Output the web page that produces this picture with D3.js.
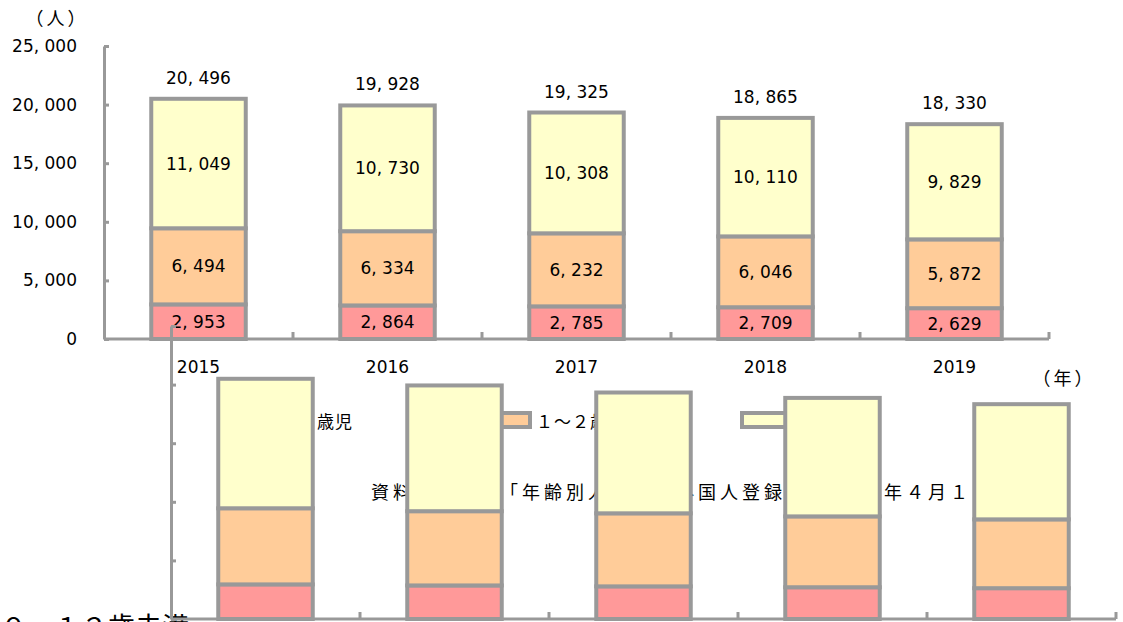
<!DOCTYPE html>
<html>
<head>
<meta charset="utf-8">
<script src="https://cdn.jsdelivr.net/npm/d3@7"></script>
<style>
  html, body { margin: 0; padding: 0; background: #fff; }
  svg { display: block; font-family: "Noto Sans CJK JP", "Noto Sans", sans-serif; }
</style>
</head>
<body>
<svg id="chart" width="1123" height="622"></svg>
<script>
/* data */
const years = ["2015", "2016", "2017", "2018", "2019"];
const age0 = [2953, 2864, 2785, 2709, 2629];
const age1to2 = [6494, 6334, 6232, 6046, 5872];
const age3to5 = [11049, 10730, 10308, 10110, 9829];
const totals = [20496, 19928, 19325, 18865, 18330];
const yTicks = [0, 5000, 10000, 15000, 20000, 25000];
const seriesNames = ["０歳児", "１～２歳児", "３～５歳児"];
const seriesColors = ["#FF9999", "#FFCC99", "#FFFFCC"];

const GRAY = "#999999";
const NUM_FONT = "'DejaVu Sans', sans-serif";
const svg = d3.select("#chart");

const rows = years.map((yr, i) => ({ year: yr, s0: age0[i], s1: age1to2[i], s2: age3to5[i], total: totals[i] }));
const stack = d3.stack().keys(["s0", "s1", "s2"])(rows);

const x = d3.scaleBand().domain(years).range([104, 1049]).paddingInner(0.5).paddingOuter(0.25);
const y = d3.scaleLinear().domain([0, 25000]).range([339, 46]);
const fmt = v => d3.format(",")(v).replace(",", ", ");

// draws axes + bars; text only for the real chart, the ghost copy has none
function drawPlot(g, withText) {
  const yAxis = d3.axisLeft(y).tickValues(yTicks).tickSize(-5).tickSizeOuter(0)
    .tickPadding(27).tickFormat(withText ? fmt : "");
  const ya = g.append("g").attr("transform", `translate(${x.range()[0]},0)`).call(yAxis);
  ya.select(".domain").attr("stroke", GRAY).attr("stroke-width", 3);
  ya.selectAll(".tick line").attr("stroke", GRAY).attr("stroke-width", 3);
  ya.selectAll(".tick text").attr("fill", "#000").attr("font-size", 17)
    .attr("font-family", NUM_FONT);

  // x axis line with upward ticks at band boundaries
  g.append("line")
    .attr("x1", x.range()[0]).attr("x2", x.range()[1])
    .attr("y1", y(0)).attr("y2", y(0))
    .attr("stroke", GRAY).attr("stroke-width", 3);
  g.selectAll(".xtick").data(years).join("line")
    .attr("class", "xtick")
    .attr("x1", d => x(d) + x.bandwidth() / 2 + x.step() / 2)
    .attr("x2", d => x(d) + x.bandwidth() / 2 + x.step() / 2)
    .attr("y1", y(0)).attr("y2", y(0) - 7)
    .attr("stroke", GRAY).attr("stroke-width", 3);

  const layer = g.selectAll(".layer").data(stack).join("g")
    .attr("class", "layer")
    .attr("fill", (d, i) => seriesColors[i]);
  layer.selectAll("rect").data(d => d).join("rect")
    .attr("x", d => x(d.data.year))
    .attr("width", x.bandwidth())
    .attr("y", d => y(d[1]))
    .attr("height", d => y(d[0]) - y(d[1]))
    .attr("stroke", GRAY).attr("stroke-width", 4);

  if (!withText) return;

  layer.selectAll("text").data(d => d).join("text")
    .attr("x", d => x(d.data.year) + x.bandwidth() / 2)
    .attr("y", d => (y(d[0]) + y(d[1])) / 2 + 6)
    .attr("text-anchor", "middle")
    .attr("font-size", 17).attr("font-family", NUM_FONT).attr("fill", "#000")
    .text(d => fmt(d[1] - d[0]));

  g.selectAll(".tot").data(rows).join("text")
    .attr("class", "tot")
    .attr("x", d => x(d.year) + x.bandwidth() / 2)
    .attr("y", d => y(d.total) - 15)
    .attr("text-anchor", "middle")
    .attr("font-size", 17).attr("font-family", NUM_FONT).attr("fill", "#000")
    .text(d => fmt(d.total));

  g.selectAll(".cat").data(years).join("text")
    .attr("class", "cat")
    .attr("x", d => x(d) + x.bandwidth() / 2)
    .attr("y", y(0) + 34)
    .attr("text-anchor", "middle")
    .attr("font-size", 17).attr("font-family", NUM_FONT).attr("fill", "#000")
    .text(d => d);

  g.append("text").attr("x", 57).attr("y", 25).attr("text-anchor", "middle")
    .attr("font-size", 18).attr("letter-spacing", 3).text("（人）");
  g.append("text").attr("x", 1064).attr("y", 385).attr("text-anchor", "middle")
    .attr("font-size", 18).attr("letter-spacing", 3).text("（年）");
}

// main chart
drawPlot(svg.append("g"), true);

// legend
const legendX = [249, 486, 742];
const legend = svg.append("g");
legend.selectAll("rect").data(seriesNames).join("rect")
  .attr("x", (d, i) => legendX[i]).attr("y", 413)
  .attr("width", 44).attr("height", 14)
  .attr("fill", (d, i) => seriesColors[i])
  .attr("stroke", GRAY).attr("stroke-width", 4);
legend.selectAll("text").data(seriesNames).join("text")
  .attr("x", (d, i) => legendX[i] + 50).attr("y", 428)
  .attr("font-size", 17).attr("letter-spacing", 1).attr("fill", "#000")
  .text(d => d);

// source note
const src = svg.append("text").attr("y", 499).attr("font-size", 18)
  .attr("letter-spacing", 4).attr("fill", "#000");
src.append("tspan").attr("x", 371).text("資料：市民課");
src.append("tspan").attr("x", 500).text("「年齢別人口」、");
src.append("tspan").attr("x", 676).text("外国人登録（各");
src.append("tspan").attr("x", 884).text("年４月１日現在）");

// title line cut off at the bottom
svg.append("text").attr("x", 0).attr("y", 637)
  .attr("font-size", 27).attr("fill", "#000")
  .text("０～１２歳未満");

// ghost copy of the plot area, shifted
drawPlot(svg.append("g").attr("transform", "translate(67,280)"), false);
</script>
</body>
</html>
